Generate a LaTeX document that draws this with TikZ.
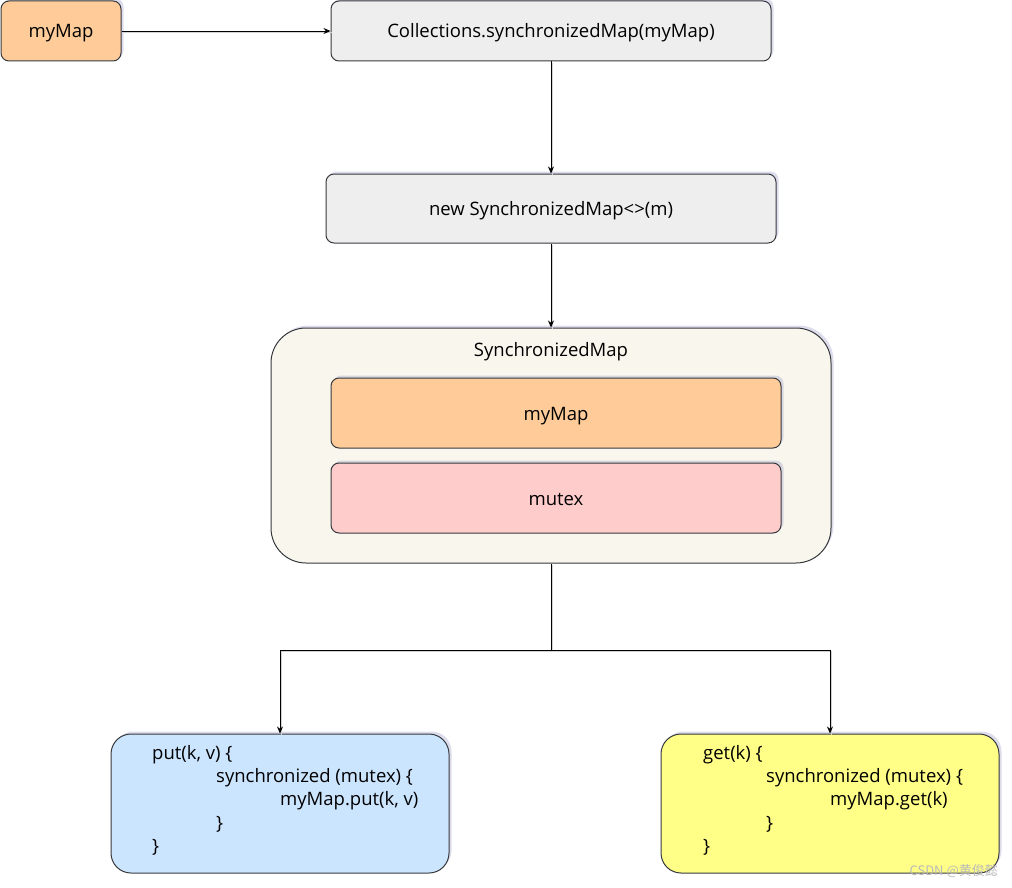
\documentclass[tikz,border=0pt]{standalone}
\usepackage{fontspec}
\setmainfont{Open Sans}
\newfontfamily\cjkfont{Noto Sans CJK SC}
\usetikzlibrary{shadows,arrows.meta}
\definecolor{strokec}{HTML}{36393D}
\definecolor{orangef}{HTML}{FFCC99}
\definecolor{grayf}{HTML}{EEEEEE}
\definecolor{contf}{HTML}{F9F7ED}
\definecolor{pinkf}{HTML}{FFCCCC}
\definecolor{bluef}{HTML}{CCE5FF}
\definecolor{yellowf}{HTML}{FFFF88}
\tikzset{
  box/.style={draw=strokec, line width=1pt, rounded corners=8pt, inner sep=0pt,
    drop shadow={shadow xshift=2.5pt, shadow yshift=2.5pt, opacity=0.35, fill=gray!70!blue!60}},
  txt/.style={font=\fontsize{18.5}{22}\selectfont, text=black, text height=14pt, text depth=0pt},
  codetxt/.style={font=\fontsize{18.5}{22}\selectfont, anchor=west, inner sep=0pt},
  link/.style={draw=black, line width=0.9pt, -{Stealth[length=7pt,width=6pt]},
    preaction={draw=gray!35, line width=1.2pt, -, transform canvas={shift={(1.5pt,-1.5pt)}}}},
}
\begin{document}
\begin{tikzpicture}[x=1pt,y=-1pt]
\useasboundingbox (0,0) rectangle (1012,888);
% nodes
\node[box, fill=orangef, minimum width=120pt, minimum height=60pt, txt] (mymapA) at (61,31) {myMap};
\node[box, fill=grayf, minimum width=440pt, minimum height=60pt, txt] (coll) at (551,31) {Collections.synchronizedMap(myMap)};
\node[box, fill=grayf, minimum width=450pt, minimum height=69pt, txt] (newsm) at (551,208.5) {new SynchronizedMap<>(m)};
\node[box, fill=contf, rounded corners=35pt, minimum width=560pt, minimum height=235pt] (cont) at (551,445.5) {};
\node[txt] (contlabel) at (551,349) {SynchronizedMap};
\node[box, fill=orangef, minimum width=450pt, minimum height=70pt, txt] (inmap) at (556,413) {myMap};
\node[box, fill=pinkf, minimum width=450pt, minimum height=70pt, txt] (mutex) at (556,498) {mutex};
\node[box, fill=bluef, rounded corners=20pt, minimum width=338pt, minimum height=139pt] (put) at (280,803.5) {};
\node[box, fill=yellowf, rounded corners=20pt, minimum width=338pt, minimum height=139pt] (get) at (830,803.5) {};
% code text
\node[codetxt] (p1) at (152,755) {put(k, v) \{};
\node[codetxt] (p2) at (216,778) {synchronized (mutex) \{};
\node[codetxt] (p3) at (280,801) {myMap.put(k, v)};
\node[codetxt] (p4) at (216,824) {\}};
\node[codetxt] (p5) at (152,847) {\}};
\node[codetxt] (g1) at (703,755) {get(k) \{};
\node[codetxt] (g2) at (766,778) {synchronized (mutex) \{};
\node[codetxt] (g3) at (830,801) {myMap.get(k)};
\node[codetxt] (g4) at (766,824) {\}};
\node[codetxt] (g5) at (703,847) {\}};
% watermark
\node[anchor=east, inner sep=0pt, text=gray!55, font=\cjkfont\fontsize{13}{15}\selectfont] (wm) at (998,871) {CSDN @黄俊懿};
% connectors
\coordinate (split) at (551,650);
\draw[link] (mymapA.east) -- (coll.west);
\draw[link] (coll.south) -- (newsm.north);
\draw[link] (newsm.south) -- (cont.north);
\draw[link] (cont.south) -- (split) -| (put.north);
\draw[link] (split) -| (get.north);
\end{tikzpicture}
\end{document}
